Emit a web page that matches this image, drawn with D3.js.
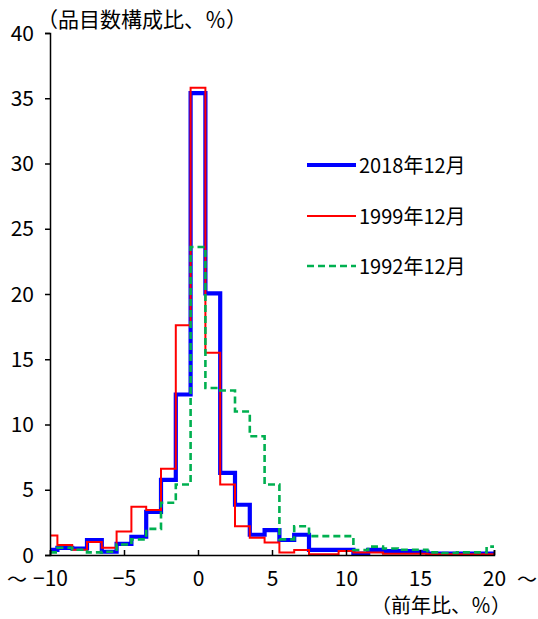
<!DOCTYPE html>
<html>
<head>
<meta charset="utf-8">
<script src="https://cdn.jsdelivr.net/npm/d3@7"></script>
<style>
  body { margin: 0; background: #fff; }
  text { font-family: "Noto Sans CJK JP", "Noto Sans", sans-serif; fill: #000; }
</style>
</head>
<body>
<svg id="main-svg"></svg>
<script>
// --- data: bins of 1pt width centred on each integer, ends are open (~-10, 20~) ---
const bins = [-10, -9, -8, -7, -6, -5, -4, -3, -2, -1, 0, 1, 2, 3, 4, 5, 6, 7, 8, 9, 10,
              11, 12, 13, 14, 15, 16, 17, 18, 19, 20];
const s2018 = [0.4, 0.55, 0.5, 1.15, 0.25, 0.85, 1.4, 3.3, 5.75, 12.3, 35.4, 20.05, 6.3, 3.85, 1.55,
               1.9, 1.15, 1.55, 0.4, 0.4, 0.4, 0.1, 0.4, 0.3, 0.3, 0.25, 0.1, 0.1, 0.1, 0.1, 0.1];
const s1999 = [1.5, 0.77, 0.4, 1.0, 0.55, 1.8, 3.7, 3.45, 6.6, 17.6, 35.8, 15.5, 5.4, 2.2, 1.33,
               0.95, 0.2, 0.38, 0.05, 0.05, 0.3, 0.2, 0.2, 0.1, 0.1, 0.1, 0.05, 0.05, 0.05, 0.05, 0.05];
const s1992 = [0.2, 0.55, 0.4, 0.2, 0.25, 0.8, 1.2, 2.0, 4.0, 5.4, 23.6, 12.8, 12.6, 11.0, 9.1,
               5.4, 1.2, 2.2, 1.45, 1.45, 1.45, 0.38, 0.64, 0.5, 0.4, 0.4, 0.2, 0.15, 0.2, 0.2, 0.64];
const xTicks = [-10, -5, 0, 5, 10, 15, 20];
const yTicks = [0, 5, 10, 15, 20, 25, 30, 35, 40];
const seriesNames = ["2018年12月", "1999年12月", "1992年12月"];

// --- setup ---
const width = 538, height = 619;
const svg = d3.select("#main-svg").attr("width", width).attr("height", height);

const x = d3.scaleLinear().domain([-10, 20]).range([50, 494]);
const y = d3.scaleLinear().domain([0, 40]).range([555, 33]);

// step points for one series
function steps(vals) {
  const pts = [];
  bins.forEach((b, i) => {
    const lo = Math.max(b - 0.5, -10), hi = Math.min(b + 0.5, 20);
    pts.push([lo, vals[i]], [hi, vals[i]]);
  });
  return pts;
}
const line = d3.line().x(d => x(d[0])).y(d => y(d[1]));

const styles = [
  {vals: s2018, color: "#0000ff", w: 4.2, dash: null},
  {vals: s1999, color: "#ff0000", w: 2, dash: null},
  {vals: s1992, color: "#00b050", w: 2.6, dash: "7,4"}
];

styles.forEach(s => {
  svg.append("path")
    .attr("d", line(steps(s.vals)))
    .attr("fill", "none")
    .attr("stroke", s.color)
    .attr("stroke-width", s.w)
    .attr("stroke-dasharray", s.dash)
    .attr("stroke-linejoin", "miter");
});

// --- axes ---
const yAxis = svg.append("g").attr("transform", "translate(50,0)")
  .call(d3.axisLeft(y).tickValues(yTicks).tickSize(5).tickPadding(11));
const xAxis = svg.append("g").attr("transform", "translate(0,555)")
  .call(d3.axisBottom(x).tickValues(xTicks).tickSize(-5).tickPadding(0)
    .tickFormat(d => d < 0 ? "−" + Math.abs(d) : d));

[yAxis, xAxis].forEach(a => {
  a.select(".domain").attr("stroke", "#000").attr("stroke-width", 1.5);
  a.selectAll(".tick line").attr("stroke", "#000").attr("stroke-width", 1.5);
  a.selectAll("text").style("font-size", "21px").attr("fill", "#000")
    .style("font-family", "'Noto Sans CJK JP', sans-serif");
});
xAxis.selectAll("text").attr("y", 31).attr("dy", null);
yAxis.selectAll("text").attr("dy", "0.34em");

// open-ended markers
svg.append("text").attr("x", 17).attr("y", 587).attr("text-anchor", "middle")
  .style("font-size", "20px").text("～");
svg.append("text").attr("x", 527).attr("y", 587).attr("text-anchor", "middle")
  .style("font-size", "20px").text("～");

// axis titles
svg.append("text").attr("x", 37).attr("y", 27).style("font-size", "21px")
  .text("（品目数構成比、％）");
svg.append("text").attr("x", 511).attr("y", 613).attr("text-anchor", "end")
  .style("font-size", "20px").text("（前年比、％）");

// --- legend ---
const legY = [165, 216, 266];
styles.forEach((s, i) => {
  svg.append("line")
    .attr("x1", 307).attr("x2", 356)
    .attr("y1", legY[i]).attr("y2", legY[i])
    .attr("stroke", s.color).attr("stroke-width", s.w)
    .attr("stroke-dasharray", s.dash);
  svg.append("text").attr("x", 359).attr("y", legY[i] + 8)
    .style("font-size", "20px").text(seriesNames[i]);
});
</script>
</body>
</html>
